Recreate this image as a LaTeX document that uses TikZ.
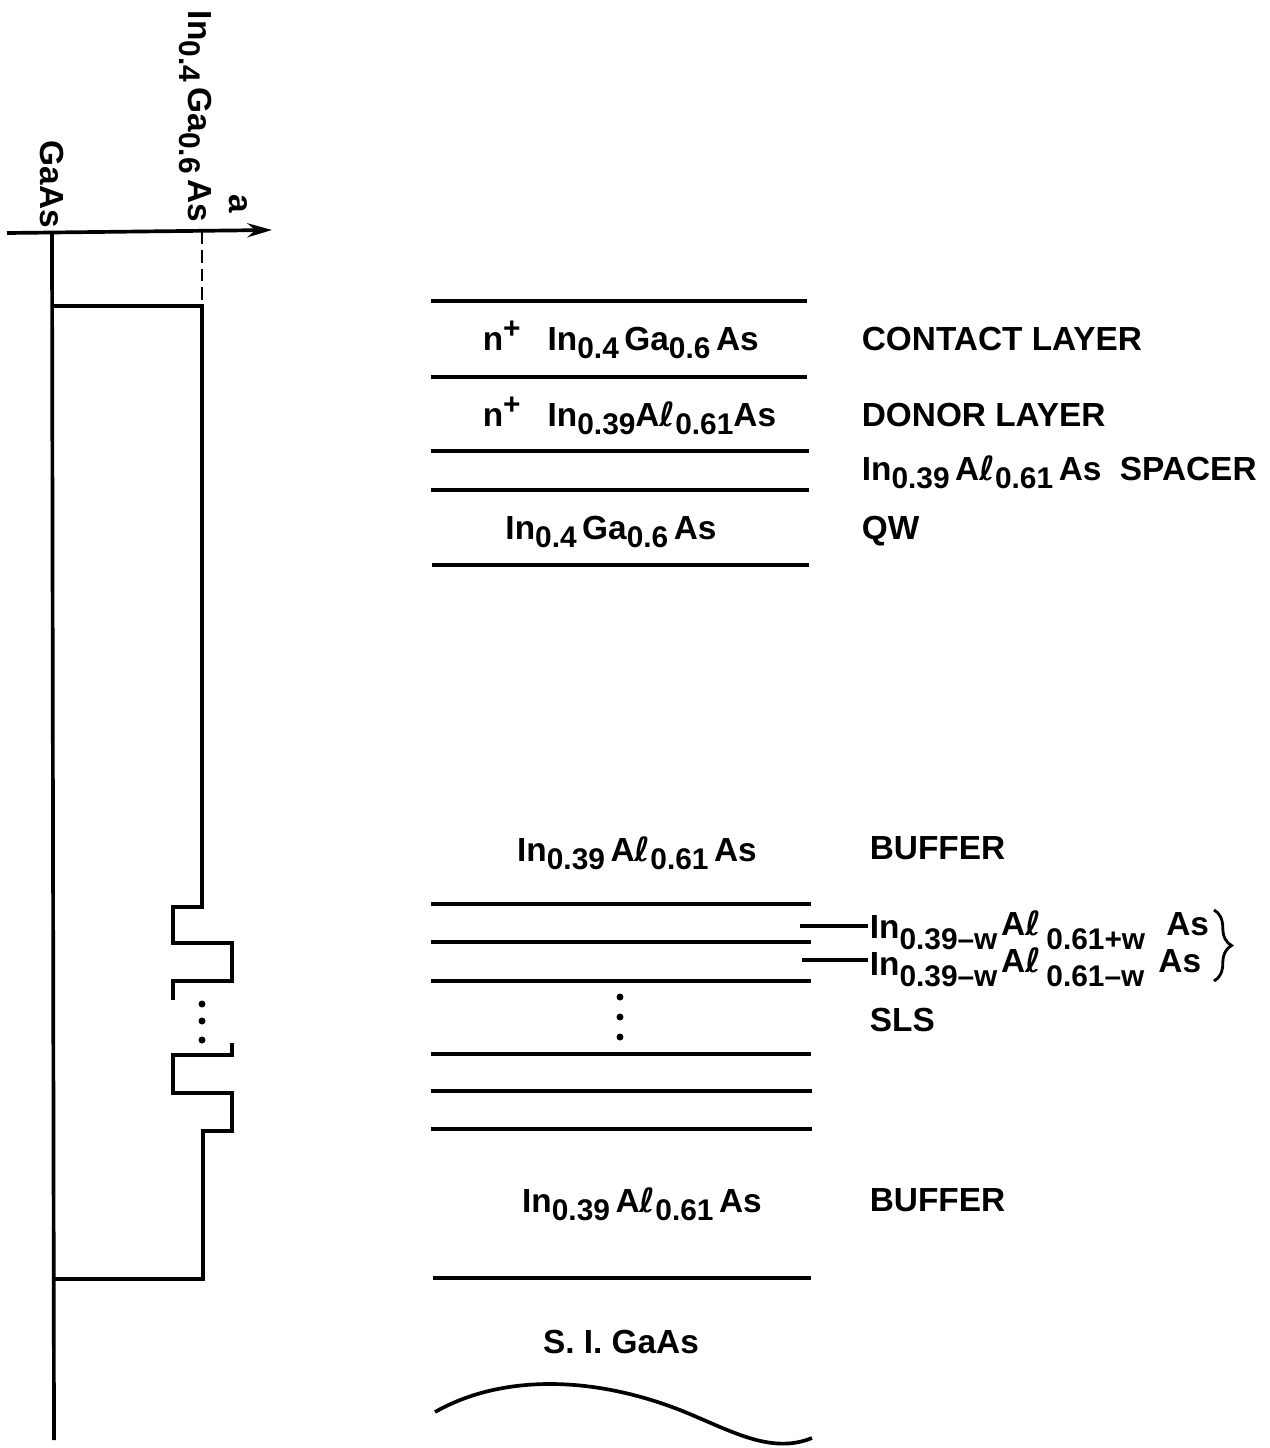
\documentclass[tikz,border=0pt]{standalone}
\usepackage{fontspec}
\setmainfont{Liberation Sans}
\newfontfamily\ellfont{DejaVu Sans}
\usetikzlibrary{decorations.pathreplacing, arrows.meta}
\newcommand{\lowtxt}[1]{\raisebox{-0.24em}{\fontsize{17}{17}\selectfont #1}}
\newcommand{\lowtxtb}[1]{\raisebox{-0.33em}{\fontsize{17}{17}\selectfont #1}}
\newcommand{\hightxt}[1]{\raisebox{0.08em}{#1}}
\newcommand{\Alell}{A{\ellfont ℓ}}
\newcommand{\InGa}{In\lowtxt{0.4}\,Ga\lowtxt{0.6}\,As}
\newcommand{\InAl}{In\lowtxt{0.39}\,\Alell\lowtxt{0.61}\,As}
\newcommand{\nplus}{\makebox[36.9pt][l]{n\raisebox{0.35em}{\fontsize{17}{17}\selectfont +}}}
\begin{document}
\begin{tikzpicture}[x=0.02cm, y=-0.02cm, line width=2.1pt,
    every node/.style={font=\fontsize{19}{19}\selectfont\bfseries, inner sep=0pt},
    sidetxt/.style={anchor=base west},
    layertxt/.style={anchor=base}]
    \useasboundingbox (0, 0) rectangle (1269, 1448);

    % lattice constant profile
    \coordinate (axl) at (7, 233);
    \coordinate (axr) at (272, 230);
    \coordinate (gatop) at (52, 233);
    \coordinate (gabot) at (54, 1440);
    \coordinate (intop) at (202, 232);
    \coordinate (inbot) at (202, 306);
    \draw[-{Stealth[length=14pt, width=8pt]}] (axl) -- (axr);
    \draw (gatop) -- (gabot);
    \draw[dash pattern=on 7pt off 3.5pt, line width=1.6pt] (intop) -- (inbot);
    \draw (52, 306) -- (inbot) -- (202, 907) -- (173, 907) -- (173, 943) -- (232, 943)
        -- (232, 981) -- (173, 981) -- (173, 1000);
    \draw (232, 1043) -- (232, 1055) -- (173, 1055) -- (173, 1093) -- (232, 1093)
        -- (232, 1131) -- (203, 1131) -- (203, 1279) -- (54, 1279);
    \foreach \y in {1004, 1021, 1040}
        \fill (202, \y) circle (3.5);

    \node[rotate=-90, anchor=base west] (gaas) at (40, 139) {GaAs};
    \node[rotate=-90, anchor=base west] (ingaas) at (188, 9) {\InGa};
    \node[rotate=-90] (lat) at (238, 204) {a};

    % layer lines
    \draw (431, 301) -- (807, 301);
    \draw (431, 377) -- (807, 377);
    \draw (431, 451) -- (809, 451);
    \draw (431, 490) -- (809, 490);
    \draw (432, 565) -- (809, 565);
    \draw (431, 904) -- (811, 904);
    \draw (431, 942) -- (811, 942);
    \draw (431, 981) -- (811, 981);
    \draw (431, 1054) -- (811, 1054);
    \draw (431, 1091) -- (812, 1091);
    \draw (431, 1129) -- (812, 1129);
    \draw (433, 1278) -- (811, 1278);
    \foreach \y in {997, 1017, 1037}
        \fill (620, \y) circle (3.5);
    \draw (435, 1412) .. controls (500, 1375) and (590, 1375) .. (680, 1410)
        .. controls (730, 1430) and (770, 1455) .. (812, 1438);

    \node[sidetxt] (l1) at (481, 350) {\nplus\InGa};
    \node[sidetxt] (l2) at (481, 426) {\nplus In\lowtxt{0.39}\Alell\lowtxt{0.61}As};
    \node[layertxt] (l3) at (611, 539) {\InGa};
    \node[layertxt] (l4) at (637, 861) {\InAl};
    \node[layertxt] (l5) at (642, 1212) {\InAl};
    \node[layertxt] (l6) at (621, 1353) {S. I. GaAs};

    \node[sidetxt] (contact) at (860, 350) {CONTACT LAYER};
    \node[sidetxt] (donor) at (860, 426) {DONOR LAYER};
    \node[sidetxt] (spacer) at (860, 480) {\InAl\; SPACER};
    \node[sidetxt] (qw) at (860, 539) {QW};
    \node[sidetxt] (buf1) at (868, 859) {BUFFER};
    \node[sidetxt] (sls) at (868, 1031) {SLS};
    \node[sidetxt] (buf2) at (868, 1211) {BUFFER};

    % superlattice pair
    \node[sidetxt] (wplus) at (868, 938) {In\lowtxtb{0.39--w}\hspace{2pt}\hightxt{\Alell}\,\lowtxtb{0.61+w}\hspace{12pt}\hightxt{As}};
    \node[sidetxt] (wminus) at (868, 975) {In\lowtxtb{0.39--w}\hspace{2pt}\hightxt{\Alell}\,\lowtxtb{0.61--w}\hspace{8pt}\hightxt{As}};
    \coordinate (lead1) at (800, 926);
    \coordinate (lead2) at (802, 960);
    \draw (lead1) -- (lead1 -| wplus.west);
    \draw (lead2) -- (lead2 -| wminus.west);
    \coordinate (br1) at (1214, 910);
    \coordinate (br2) at (1214, 981);
    \draw[decorate, decoration={brace, amplitude=10pt}, line width=1.6pt] (br1) -- (br2);
\end{tikzpicture}
\end{document}
